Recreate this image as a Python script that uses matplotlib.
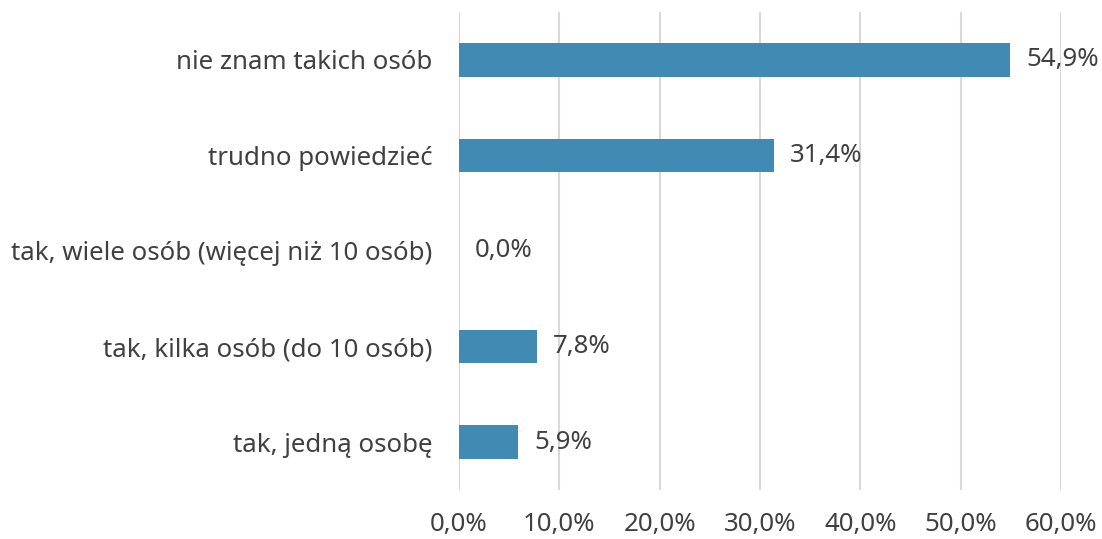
import matplotlib.pyplot as plt

categories = ["tak, jedną osobę", "tak, kilka osób (do 10 osób)",
              "tak, wiele osób (więcej niż 10 osób)", "trudno powiedzieć",
              "nie znam takich osób"]
values = [5.9, 7.8, 0.0, 31.4, 54.9]
ticks = [0, 10, 20, 30, 40, 50, 60]
tick_labels = ["0,0%", "10,0%", "20,0%", "30,0%", "40,0%", "50,0%", "60,0%"]

plt.rcParams['font.family'] = ['Noto Sans', 'DejaVu Sans']
txt = '#404040'
fs = 18.6

fig = plt.figure(figsize=(11.02, 5.39), dpi=100)
ax = fig.add_axes([459 / 1102, 1 - 490 / 539, (1061 - 459) / 1102, (490 - 12) / 539])

ypos = range(len(categories))
ax.barh(ypos, values, height=0.35, color='#418AB3', zorder=3)
for y, v in zip(ypos, values):
    ax.text(v + 1.6, y, f"{v:.1f}%".replace('.', ','), va='center', ha='left',
            fontsize=fs, color=txt)

ax.set_xlim(0, 60)
ax.set_ylim(-0.5, len(categories) - 0.5)
ax.set_xticks(ticks)
ax.set_xticklabels(tick_labels, fontsize=fs, color=txt)
ax.set_yticks(list(ypos))
ax.set_yticklabels(categories, fontsize=fs, color=txt)
ax.tick_params(axis='both', length=0)
ax.tick_params(axis='x', pad=16)
ax.tick_params(axis='y', pad=19)
ax.grid(axis='x', color='#D9D9D9', linewidth=1.5, zorder=0)
for s in ax.spines.values():
    s.set_visible(False)

fig.savefig('out.png', dpi=100)
